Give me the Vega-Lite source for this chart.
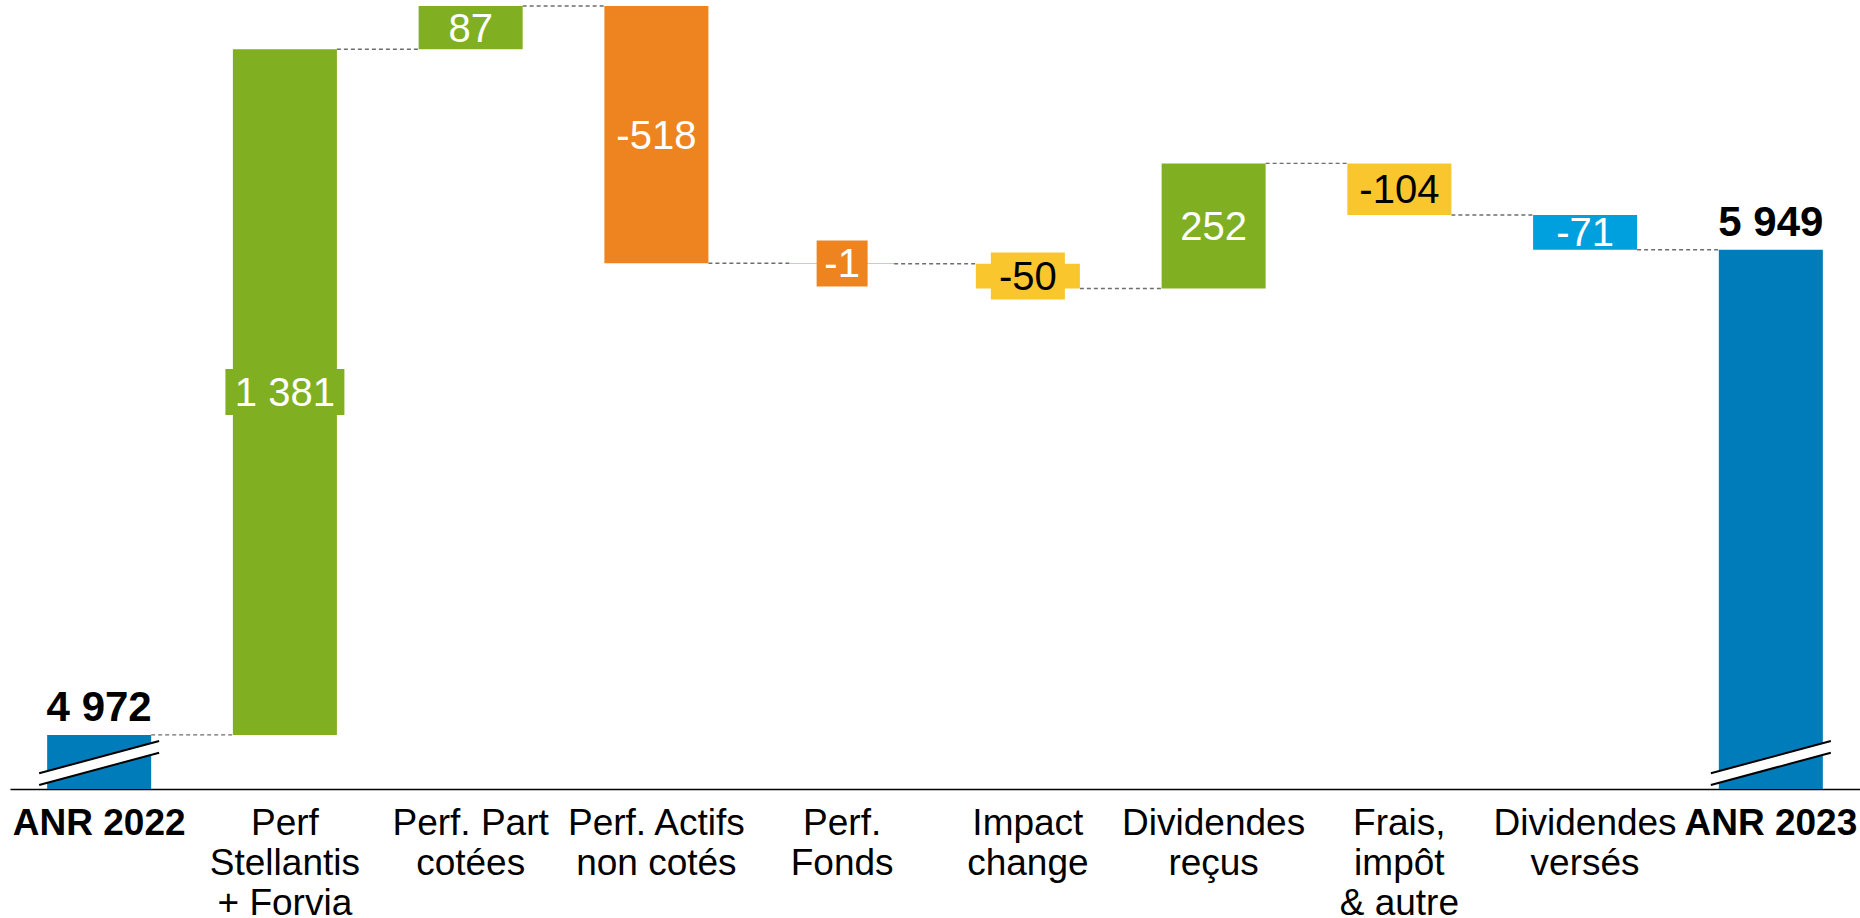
{
  "$schema": "https://vega.github.io/schema/vega-lite/v6.json",
  "width": 1850,
  "height": 783,
  "autosize": {"type": "none"},
  "padding": {"left": 10, "top": 6, "right": 0, "bottom": 129},
  "background": "white",
  "config": {"view": {"stroke": null}, "font": "Liberation Sans"},
  "data": {
    "values": [
      {"cat": "ANR 2022", "next": "Perf|Stellantis|+ Forvia", "label": "4 972", "type": "total", "start": 0, "end": 4972},
      {"cat": "Perf|Stellantis|+ Forvia", "next": "Perf. Part|cotées", "label": "1 381", "type": "hausse", "start": 4972, "end": 6353},
      {"cat": "Perf. Part|cotées", "next": "Perf. Actifs|non cotés", "label": "87", "type": "hausse", "start": 6353, "end": 6440},
      {"cat": "Perf. Actifs|non cotés", "next": "Perf.|Fonds", "label": "-518", "type": "baisse", "start": 6440, "end": 5922},
      {"cat": "Perf.|Fonds", "next": "Impact|change", "label": "-1", "type": "baisse", "start": 5922, "end": 5921},
      {"cat": "Impact|change", "next": "Dividendes|reçus", "label": "-50", "type": "autre", "start": 5921, "end": 5871},
      {"cat": "Dividendes|reçus", "next": "Frais,|impôt|& autre", "label": "252", "type": "hausse", "start": 5871, "end": 6123},
      {"cat": "Frais,|impôt|& autre", "next": "Dividendes|versés", "label": "-104", "type": "autre", "start": 6123, "end": 6019},
      {"cat": "Dividendes|versés", "next": "ANR 2023", "label": "-71", "type": "versement", "start": 6019, "end": 5949},
      {"cat": "ANR 2023", "next": null, "label": "5 949", "type": "total", "start": 0, "end": 5949}
    ]
  },
  "encoding": {
    "x": {
      "field": "cat",
      "type": "nominal",
      "sort": null,
      "scale": {
        "domain": ["ANR 2022", "Perf|Stellantis|+ Forvia", "Perf. Part|cotées", "Perf. Actifs|non cotés", "Perf.|Fonds", "Impact|change", "Dividendes|reçus", "Frais,|impôt|& autre", "Dividendes|versés", "ANR 2023"],
        "paddingInner": 0.44,
        "paddingOuter": 0.2
      },
      "axis": {
        "title": null,
        "labelExpr": "split(datum.label, '|')",
        "labelAngle": 0,
        "labelFont": "Liberation Sans",
        "labelFontSize": 37,
        "labelLineHeight": 40,
        "labelColor": "#000000",
        "labelFontWeight": {"condition": {"test": "indexof(datum.value, 'ANR') === 0", "value": "bold"}, "value": "normal"},
        "labelPadding": 16,
        "labelLimit": 0,
        "labelOverlap": false,
        "ticks": false,
        "tickSize": 0,
        "domainColor": "#000000",
        "domainWidth": 1.5,
        "grid": false
      }
    }
  },
  "layer": [
    {
      "transform": [{"filter": "datum.next != null"}],
      "mark": {"type": "rule", "stroke": "#6e6e6e", "strokeWidth": 1.4, "strokeDash": [4, 3]},
      "encoding": {
        "x": {"field": "cat", "type": "nominal", "bandPosition": 1},
        "x2": {"field": "next", "bandPosition": 0},
        "y": {"field": "end", "type": "quantitative", "scale": {"domain": [4863, 6440], "clamp": true, "nice": false, "zero": false}, "axis": null}
      }
    },
    {
      "mark": {"type": "bar", "minBandSize": 1.5},
      "encoding": {
        "y": {"field": "end", "type": "quantitative", "scale": {"domain": [4863, 6440], "clamp": true, "nice": false, "zero": false}, "axis": null},
        "y2": {"field": "start"},
        "color": {"field": "type", "type": "nominal", "scale": {"domain": ["total", "hausse", "baisse", "autre", "versement"], "range": ["#007CBB", "#80B022", "#EE8420", "#FAC62D", "#009FDE"]}, "legend": null}
      }
    },
    {
      "transform": [{"filter": "datum.type !== 'total'"}, {"fold": ["start", "end"], "as": ["k", "v"]}],
      "layer": [
        {
          "transform": [{"filter": "datum.label === '1 381'"}],
          "mark": {"type": "tick", "thickness": 46},
          "encoding": {
            "y": {"aggregate": "mean", "field": "v", "type": "quantitative", "scale": {"domain": [4863, 6440], "clamp": true, "nice": false, "zero": false}, "axis": null},
            "size": {"value": 119},
            "color": {"field": "type", "type": "nominal", "legend": null}
          }
        },
        {
          "transform": [{"filter": "datum.label === '-1'"}],
          "mark": {"type": "tick", "thickness": 46},
          "encoding": {
            "y": {"aggregate": "mean", "field": "v", "type": "quantitative", "scale": {"domain": [4863, 6440], "clamp": true, "nice": false, "zero": false}, "axis": null},
            "size": {"value": 51},
            "color": {"field": "type", "type": "nominal", "legend": null}
          }
        },
        {
          "transform": [{"filter": "datum.label === '-50'"}],
          "mark": {"type": "tick", "thickness": 47},
          "encoding": {
            "y": {"aggregate": "mean", "field": "v", "type": "quantitative", "scale": {"domain": [4863, 6440], "clamp": true, "nice": false, "zero": false}, "axis": null},
            "size": {"value": 74},
            "color": {"field": "type", "type": "nominal", "legend": null}
          }
        },
        {
          "mark": {"type": "text", "font": "Liberation Sans", "fontSize": 40, "baseline": "middle", "dy": 2},
          "encoding": {
            "y": {"aggregate": "mean", "field": "v", "type": "quantitative", "scale": {"domain": [4863, 6440], "clamp": true, "nice": false, "zero": false}, "axis": null},
            "text": {"field": "label"},
            "detail": {"field": "type"},
            "color": {"condition": {"test": "datum.type === 'autre'", "value": "#000000"}, "value": "#FFFFFF"}
          }
        }
      ]
    },
    {
      "transform": [{"filter": "datum.type === 'total'"}],
      "mark": {"type": "text", "font": "Liberation Sans", "fontSize": 42, "fontWeight": "bold", "baseline": "alphabetic", "dy": -14, "color": "#000000"},
      "encoding": {
        "y": {"field": "end", "type": "quantitative", "scale": {"domain": [4863, 6440], "clamp": true, "nice": false, "zero": false}, "axis": null},
        "text": {"field": "label"}
      }
    },
    {
      "transform": [{"filter": "datum.type === 'total'"}],
      "mark": {"type": "point", "shape": "M-1,-0.262L1,-0.8L1,-0.605L-1,-0.067Z", "size": 14400, "filled": true, "fill": "#FFFFFF", "strokeWidth": 0, "opacity": 1},
      "encoding": {
        "y": {"field": "start", "type": "quantitative", "scale": {"domain": [4863, 6440], "clamp": true, "nice": false, "zero": false}, "axis": null}
      }
    },
    {
      "transform": [{"filter": "datum.type === 'total'"}],
      "mark": {"type": "point", "shape": "M-1,-0.262L1,-0.8M-1,-0.067L1,-0.605", "size": 14400, "filled": false, "stroke": "#000000", "strokeWidth": 2, "opacity": 1},
      "encoding": {
        "y": {"field": "start", "type": "quantitative", "scale": {"domain": [4863, 6440], "clamp": true, "nice": false, "zero": false}, "axis": null}
      }
    }
  ]
}
